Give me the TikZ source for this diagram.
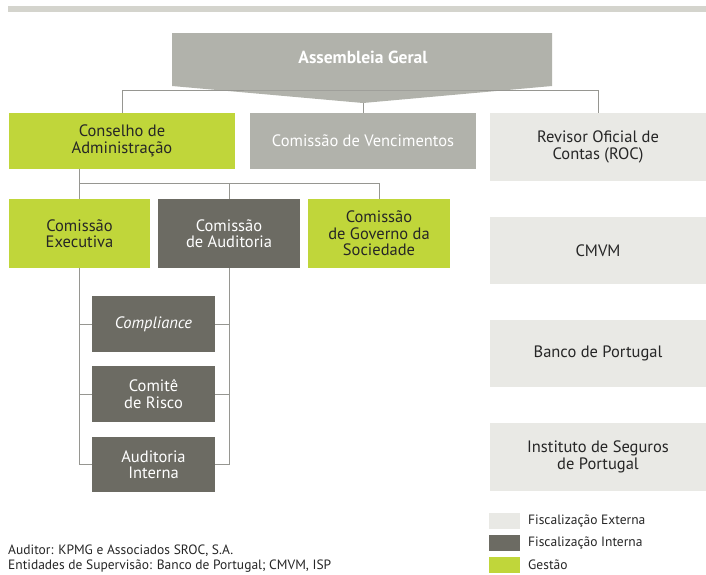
\documentclass[tikz,border=0pt]{standalone}
\usepackage{fontspec}
\setmainfont{PT Sans}
\usetikzlibrary{positioning}

\definecolor{gestao}{RGB}{192,214,58}
\definecolor{interna}{RGB}{108,107,99}
\definecolor{externa}{RGB}{233,233,229}
\definecolor{geral}{RGB}{177,178,171}
\definecolor{topbar}{RGB}{212,212,205}
\definecolor{linha}{RGB}{150,150,145}

\begin{document}
\begin{tikzpicture}[
  x=1pt, y=-1pt,
  box/.style={inner sep=0pt, outer sep=0pt, align=center, font=\fontsize{16.5}{16.5}\selectfont},
  green/.style={box, fill=gestao, text=black!85},
  dark/.style={box, fill=interna, text=white},
  light/.style={box, fill=externa, text=black!85, minimum width=216pt},
  key/.style={inner sep=0pt, outer sep=0pt, minimum width=31pt, minimum height=16pt},
  small/.style={inner sep=0pt, font=\fontsize{13.5}{15}\selectfont, text=black!85},
  conn/.style={draw=linha, line width=0.8pt}
]
  \useasboundingbox (0,0) rectangle (706,574);
  \fill[topbar] (8,6) rectangle (706,12);

  % assembleia
  \fill[geral] (172,33) -- (552,33) -- (552,86) -- (363,103) -- (172,86) -- cycle;
  \node[box, text=white, font=\bfseries\fontsize{17.5}{17.5}\selectfont] (ag) at (363,57) {Assembleia Geral};
  \coordinate (agtip) at (363,103);
  \coordinate (rail1) at (363,90);

  % first row
  \node[green, minimum width=226pt, minimum height=56pt] (cons) at (122,141) {Conselho de\\Administração};
  \node[box, fill=geral, text=white, minimum width=226pt, minimum height=56pt] (venc) at (363,141) {Comissão de Vencimentos};
  \node[light, minimum height=68pt] (roc) at (598,147) {Revisor Oficial de\\Contas (ROC)};

  % second row
  \node[green, minimum width=141pt, minimum height=69pt] (exec) at (79.5,233.5) {Comissão\\Executiva};
  \node[dark, minimum width=142pt, minimum height=69pt] (aud) at (229,233.5) {Comissão\\de Auditoria};
  \node[green, minimum width=142pt, minimum height=69pt] (gov) at (379,233.5) {Comissão\\de Governo da\\Sociedade};
  \coordinate (rail2) at (0,183);

  % third row
  \node[dark, minimum width=123pt, minimum height=56pt] (comp) at (153.5,324) {\itshape Compliance};
  \node[dark, minimum width=123pt, minimum height=56pt] (risco) at (153.5,394) {Comitê\\de Risco};
  \node[dark, minimum width=123pt, minimum height=55pt] (intr) at (153.5,464.5) {Auditoria\\Interna};

  % supervision
  \node[light, minimum height=67pt] (cmvm) at (598,250.5) {CMVM};
  \node[light, minimum height=67pt] (bdp) at (598,353.5) {Banco de Portugal};
  \node[light, minimum height=68pt] (isp) at (598,457) {Instituto de Seguros\\de Portugal};

  % connectors
  \draw[conn] (cons.north) |- (rail1) -| (roc.north);
  \draw[conn] (agtip) -- (venc.north);
  \draw[conn] (exec.north |- cons.south) -- (exec.north);
  \draw[conn] (exec.north |- rail2) -| (gov.north);
  \draw[conn] (aud.north |- rail2) -- (aud.north);
  \draw[conn] (exec.south) |- (intr.west);
  \draw[conn] (exec.south |- comp.west) -- (comp.west);
  \draw[conn] (exec.south |- risco.west) -- (risco.west);
  \draw[conn] (aud.south) |- (intr.east);
  \draw[conn] (aud.south |- comp.east) -- (comp.east);
  \draw[conn] (aud.south |- risco.east) -- (risco.east);

  % legend
  \node[key, fill=externa] (kext) at (504.5,521) {};
  \node[key, fill=interna] (kint) at (504.5,543) {};
  \node[key, fill=gestao] (kges) at (504.5,565) {};
  \node[small, anchor=west] (lext) at (528,521) {Fiscalização Externa};
  \node[small, anchor=west] (lint) at (528,543) {Fiscalização Interna};
  \node[small, anchor=west] (lges) at (528,565) {Gestão};

  \node[small, anchor=base west] (auditor) at (8,554) {Auditor: KPMG e Associados SROC, S.A.};
  \node[small, anchor=base west] (entid) at (8,569) {Entidades de Supervisão: Banco de Portugal; CMVM, ISP};
\end{tikzpicture}
\end{document}
